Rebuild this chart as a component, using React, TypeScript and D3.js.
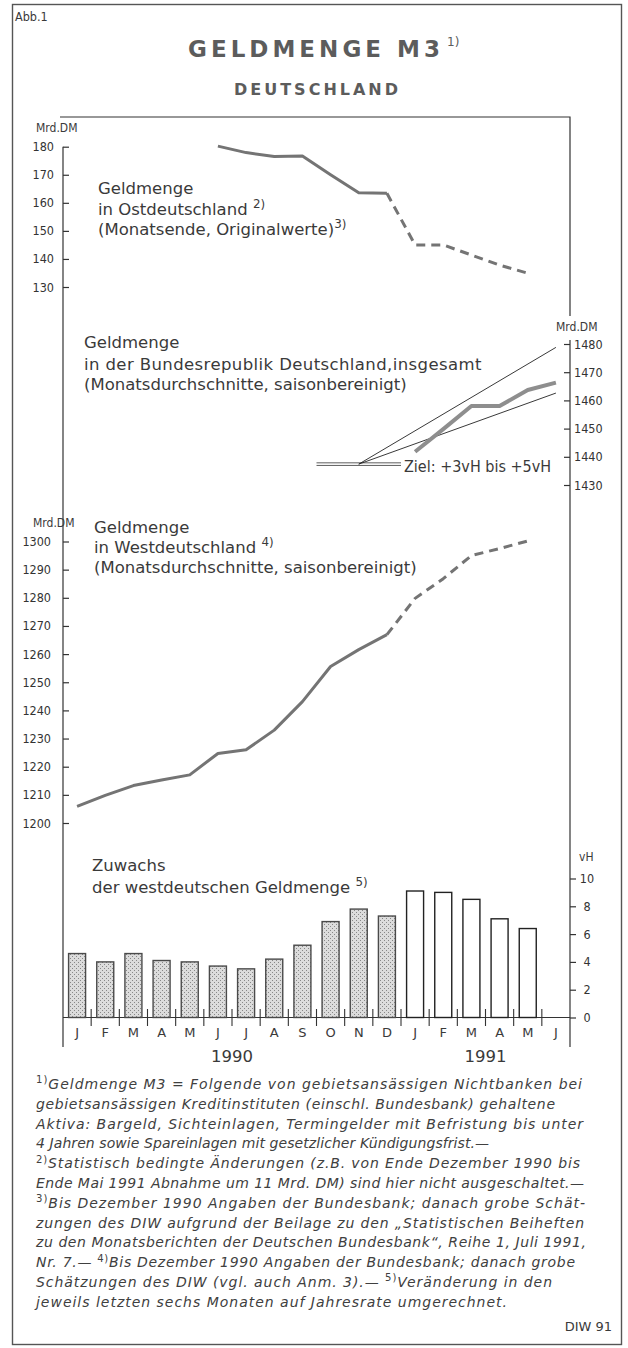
import React, { useRef, useEffect } from 'react';
import * as d3 from 'd3';

// months on the shared x axis (Jan 1990 - Jun 1991)
const monthIds = [
  '1990-01', '1990-02', '1990-03', '1990-04', '1990-05', '1990-06',
  '1990-07', '1990-08', '1990-09', '1990-10', '1990-11', '1990-12',
  '1991-01', '1991-02', '1991-03', '1991-04', '1991-05', '1991-06',
];
const monthLabels = ['J', 'F', 'M', 'A', 'M', 'J', 'J', 'A', 'S', 'O', 'N', 'D', 'J', 'F', 'M', 'A', 'M', 'J'];
const years = ['1990', '1991'];
const lastOfficial = '1990-12';

// Ostdeutschland, Mrd. DM (Monatsende)
const eastMonths = ['1990-06', '1990-07', '1990-08', '1990-09', '1990-10', '1990-11', '1990-12', '1991-01', '1991-02', '1991-03', '1991-04', '1991-05'];
const eastValues = [180.2, 177.9, 176.5, 176.7, 170.0, 163.6, 163.4, 145.0, 145.0, 141.4, 137.8, 134.9];
const eastTicks = [130, 140, 150, 160, 170, 180];

// Bundesrepublik insgesamt, Mrd. DM
const totalMonths = ['1991-01', '1991-02', '1991-03', '1991-04', '1991-05', '1991-06'];
const totalValues = [1441.8, 1449.8, 1458.0, 1458.0, 1463.7, 1466.3];
const totalTicks = [1430, 1440, 1450, 1460, 1470, 1480];
// Zielkorridor: Basis 4. Quartal 1990
const targetBaseMonths = ['1990-10', '1990-11', '1990-12'];
const targetBase = 1437.4;
const targetEndMonth = '1991-06';
const targetEndValues = [1462.6, 1478.8];

// Westdeutschland, Mrd. DM
const westMonths = ['1990-01', '1990-02', '1990-03', '1990-04', '1990-05', '1990-06', '1990-07', '1990-08', '1990-09', '1990-10', '1990-11', '1990-12', '1991-01', '1991-02', '1991-03', '1991-04', '1991-05'];
const westValues = [1205.9, 1209.8, 1213.3, 1215.3, 1217.1, 1224.7, 1226.0, 1233.0, 1243.1, 1255.6, 1261.6, 1266.9, 1279.8, 1286.8, 1295.0, 1297.5, 1300.2];
const westTicks = [1200, 1210, 1220, 1230, 1240, 1250, 1260, 1270, 1280, 1290, 1300];

// Zuwachs der westdeutschen Geldmenge, vH
const growthValues = [4.6, 4.0, 4.6, 4.1, 4.0, 3.7, 3.5, 4.2, 5.2, 6.9, 7.8, 7.3, 9.1, 9.0, 8.5, 7.1, 6.4];
const growthTicks = [0, 2, 4, 6, 8, 10];

type Part = [string, boolean];
const footnotes: Part[][] = [
  [['1)', true], ['Geldmenge M3 = Folgende von gebietsansässigen Nichtbanken bei', false]],
  [['gebietsansässigen Kreditinstituten (einschl. Bundesbank) gehaltene', false]],
  [['Aktiva: Bargeld, Sichteinlagen, Termingelder mit Befristung bis unter', false]],
  [['4 Jahren sowie Spareinlagen mit gesetzlicher Kündigungsfrist.—', false]],
  [['2)', true], ['Statistisch bedingte Änderungen (z.B. von Ende Dezember 1990 bis', false]],
  [['Ende Mai 1991 Abnahme um 11 Mrd. DM) sind hier nicht ausgeschaltet.—', false]],
  [['3)', true], ['Bis Dezember 1990 Angaben der Bundesbank; danach grobe Schät-', false]],
  [['zungen des DIW aufgrund der Beilage zu den „Statistischen Beiheften', false]],
  [['zu den Monatsberichten der Deutschen Bundesbank“, Reihe 1, Juli 1991,', false]],
  [['Nr. 7.— ', false], ['4)', true], ['Bis Dezember 1990 Angaben der Bundesbank; danach grobe', false]],
  [['Schätzungen des DIW (vgl. auch Anm. 3).— ', false], ['5)', true], ['Veränderung in den', false]],
  [['jeweils letzten sechs Monaten auf Jahresrate umgerechnet.', false]],
];
const footnoteWidths = [546, 519, 547, 453, 544, 548, 549, 548, 550, 539, 516, 471];

const FONT = "'DejaVu Sans', 'Noto Sans', sans-serif";
const COND = "'DejaVu Sans Condensed', 'Liberation Sans Narrow', 'DejaVu Sans', sans-serif";
const INK = '#3a3a3a';

const App: React.FC = () => {
  const svgRef = useRef<SVGSVGElement>(null);

  useEffect(() => {
    if (!svgRef.current) return;
    document.body.style.margin = '0';
    const svg = d3.select(svgRef.current);
    svg.selectAll('*').remove();

    svg.append('rect').attr('width', 628).attr('height', 1348).attr('fill', '#fff');

    const x = d3.scaleBand<string>().domain(monthIds).range([63, 570]);
    const bw = x.bandwidth();
    const xc = (m: string) => (x(m) as number) + bw / 2;

    const yEast = d3.scaleLinear().domain([130, 180]).range([287, 146.7]);
    const yTotal = d3.scaleLinear().domain([1430, 1480]).range([485, 344]);
    const yWest = d3.scaleLinear().domain([1200, 1300]).range([823, 541.5]);
    const yBar = d3.scaleLinear().domain([0, 10]).range([1017.5, 878.5]);

    // narrow numerals, squeezed horizontally like the printed DIN condensed
    const narrow = (sel: any) => sel
      .attr('font-family', COND)
      .attr('font-stretch', 'condensed')
      .style('font-stretch', 'condensed');

    // text helper with superscripts
    const addText = (x0: number, y0: number, parts: Part[], size: number, opts: any = {}) => {
      const t = svg.append('text')
        .attr('x', x0).attr('y', y0)
        .attr('font-family', opts.family || FONT)
        .attr('font-size', size)
        .attr('fill', opts.fill || INK);
      if (opts.italic) t.attr('font-style', 'italic');
      if (opts.width) t.attr('textLength', opts.width).attr('lengthAdjust', 'spacing');
      if (opts.spacing) t.attr('letter-spacing', opts.spacing);
      let up = false;
      parts.forEach(([s, sup]) => {
        const ts = t.append('tspan').text(s);
        if (sup) {
          ts.attr('font-size', size * 0.72).attr('font-style', 'normal');
          if (!up) { ts.attr('dy', -size * 0.4); up = true; }
        } else if (up) {
          ts.attr('dy', size * 0.4);
          up = false;
        }
      });
      return t;
    };

    // frame
    svg.append('rect')
      .attr('x', 12.5).attr('y', 4.5).attr('width', 609).attr('height', 1340)
      .attr('fill', 'none').attr('stroke', '#555').attr('stroke-width', 1.4);

    svg.append('text').attr('x', 15).attr('y', 21)
      .call(narrow).attr('font-size', 12.5).attr('fill', INK).text('Abb.1');

    // titles
    svg.append('text').attr('x', 188).attr('y', 57)
      .attr('font-family', FONT).attr('font-weight', 'bold').attr('font-size', 23)
      .attr('fill', '#5c5c5c').attr('textLength', 252).attr('lengthAdjust', 'spacing')
      .text('GELDMENGE M3');
    svg.append('text').attr('x', 447).attr('y', 46)
      .attr('font-family', FONT).attr('font-size', 12).attr('fill', '#5c5c5c').text('1)');
    svg.append('text').attr('x', 234).attr('y', 94.5)
      .attr('font-family', FONT).attr('font-weight', 'bold').attr('font-size', 16)
      .attr('fill', '#5c5c5c').attr('textLength', 164).attr('lengthAdjust', 'spacing')
      .text('DEUTSCHLAND');

    // inner frame and axis lines
    const frame = svg.append('g').attr('stroke', '#333').attr('fill', 'none').attr('stroke-width', 1.2);
    frame.append('path').attr('d', 'M60,117H570V316');
    frame.append('path').attr('d', 'M570,340V1047');
    frame.append('path').attr('d', `M63,${yEast(180)}V1047`);
    frame.append('path').attr('d', `M63,${yBar(0)}H570`);

    const styleAxis = (g: any) => {
      g.select('.domain').remove();
      g.call(narrow).attr('font-size', 12.5);
      g.selectAll('.tick line').attr('stroke', '#333').attr('stroke-width', 1.2);
      g.selectAll('.tick text').attr('fill', '#333');
    };
    const fmt = d3.format('d');

    // axes
    svg.append('g').attr('transform', 'translate(63,0)')
      .call(d3.axisLeft(yEast).tickValues(eastTicks).tickFormat(fmt as any).tickSizeInner(-6).tickSizeOuter(0).tickPadding(9) as any)
      .call(styleAxis);
    svg.append('g').attr('transform', 'translate(570,0)')
      .call(d3.axisRight(yTotal).tickValues(totalTicks).tickFormat(fmt as any).tickSizeInner(-6).tickSizeOuter(0).tickPadding(4) as any)
      .call(styleAxis);
    svg.append('g').attr('transform', 'translate(63,0)')
      .call(d3.axisLeft(yWest).tickValues(westTicks).tickFormat(fmt as any).tickSizeInner(-6).tickSizeOuter(0).tickPadding(12) as any)
      .call(styleAxis);
    const barAxis = svg.append('g').attr('transform', 'translate(570,0)')
      .call(d3.axisRight(yBar).tickValues(growthTicks).tickFormat(fmt as any).tickSizeInner(6).tickSizeOuter(0).tickPadding(4) as any)
      .call(styleAxis);
    barAxis.selectAll('.tick text').attr('text-anchor', 'middle').attr('x', 17);

    // unit labels
    const unit = (x0: number, y0: number, s: string) =>
      svg.append('text').attr('x', x0).attr('y', y0)
        .call(narrow).attr('font-size', 12).attr('fill', INK).text(s);
    unit(36, 132, 'Mrd.DM');
    unit(556, 331, 'Mrd.DM');
    unit(33, 527, 'Mrd.DM');
    unit(579, 861, 'vH');

    // lines
    const drawSeries = (months: string[], values: number[], y: d3.ScaleLinear<number, number>) => {
      const pts: [string, number][] = months.map((m, i) => [m, values[i]]);
      const line = d3.line<[string, number]>().x(d => xc(d[0])).y(d => y(d[1]));
      const cut = months.indexOf(lastOfficial);
      svg.append('path').attr('d', line(pts.slice(0, cut + 1)))
        .attr('fill', 'none').attr('stroke', '#747474').attr('stroke-width', 3)
        .attr('stroke-linejoin', 'round');
      svg.append('path').attr('d', line(pts.slice(cut)))
        .attr('fill', 'none').attr('stroke', '#747474').attr('stroke-width', 3)
        .attr('stroke-dasharray', '9,6').attr('stroke-linejoin', 'round');
    };
    drawSeries(eastMonths, eastValues, yEast);
    drawSeries(westMonths, westValues, yWest);

    // target corridor
    const baseX0 = x(targetBaseMonths[0]) as number;
    const baseX1 = (x(targetBaseMonths[targetBaseMonths.length - 1]) as number) + bw;
    const yb = yTotal(targetBase);
    [-1.3, 1.3].forEach(off => {
      svg.append('line').attr('x1', baseX0).attr('x2', baseX1).attr('y1', yb + off).attr('y2', yb + off)
        .attr('stroke', '#333').attr('stroke-width', 0.8);
    });
    const mid = targetBaseMonths[1];
    targetEndValues.forEach(v => {
      svg.append('line')
        .attr('x1', xc(mid)).attr('y1', yb)
        .attr('x2', xc(targetEndMonth)).attr('y2', yTotal(v))
        .attr('stroke', '#222').attr('stroke-width', 0.9);
    });
    svg.append('text').attr('x', 404).attr('y', 472)
      .call(narrow).attr('font-size', 16).attr('fill', INK)
      .text('Ziel: +3vH bis +5vH');

    const totalLine = d3.line<number>().x((_, i) => xc(totalMonths[i])).y(d => yTotal(d));
    svg.append('path').attr('d', totalLine(totalValues))
      .attr('fill', 'none').attr('stroke', '#8e8e8e').attr('stroke-width', 4)
      .attr('stroke-linejoin', 'round');

    // bars
    const defs = svg.append('defs');
    const pat = defs.append('pattern').attr('id', 'stipple')
      .attr('width', 4).attr('height', 4).attr('patternUnits', 'userSpaceOnUse');
    pat.append('rect').attr('width', 4).attr('height', 4).attr('fill', '#dcdcdc');
    pat.append('rect').attr('x', 0).attr('y', 0).attr('width', 1).attr('height', 1).attr('fill', '#888');
    pat.append('rect').attr('x', 2).attr('y', 2).attr('width', 1).attr('height', 1).attr('fill', '#888');

    const barW = 17;
    svg.append('g').selectAll('rect')
      .data(growthValues)
      .enter()
      .append('rect')
      .attr('x', (_, i) => xc(westMonths[i]) - barW / 2)
      .attr('y', d => yBar(d))
      .attr('width', barW)
      .attr('height', d => yBar(0) - yBar(d))
      .attr('fill', (_, i) => (westMonths[i] > lastOfficial ? '#fff' : 'url(#stipple)'))
      .attr('stroke', (_, i) => (westMonths[i] > lastOfficial ? '#222' : '#4a4a4a'))
      .attr('stroke-width', 1.4);

    // month separators and labels
    monthIds.slice(1).forEach(m => {
      const xx = x(m) as number;
      svg.append('line').attr('x1', xx).attr('x2', xx).attr('y1', 1009).attr('y2', 1026)
        .attr('stroke', '#333').attr('stroke-width', 1.1);
    });
    svg.append('g').selectAll('text')
      .data(monthIds)
      .enter()
      .append('text')
      .attr('x', d => xc(d))
      .attr('y', 1037)
      .attr('text-anchor', 'middle')
      .attr('font-family', FONT).attr('font-size', 13).attr('fill', INK)
      .text((_, i) => monthLabels[i]);
    years.forEach(yr => {
      const ms = monthIds.filter(m => m.startsWith(yr));
      const cx = ((x(ms[0]) as number) + (x(ms[ms.length - 1]) as number) + bw) / 2;
      svg.append('text').attr('x', cx).attr('y', 1062).attr('text-anchor', 'middle')
        .attr('font-family', FONT).attr('font-size', 16.5).attr('fill', INK).text(yr);
    });

    // chart captions
    const cap = 16.5;
    addText(98, 194, [['Geldmenge', false]], cap);
    addText(98, 215, [['in Ostdeutschland ', false], ['2)', true]], cap);
    addText(98, 235, [['(Monatsende, Originalwerte)', false], ['3)', true]], cap);

    addText(84, 348, [['Geldmenge', false]], cap);
    addText(84, 370, [['in der Bundesrepublik Deutschland,insgesamt', false]], cap, { spacing: 0.4 });
    addText(84, 390, [['(Monatsdurchschnitte, saisonbereinigt)', false]], cap);

    addText(94, 533, [['Geldmenge', false]], cap);
    addText(94, 553, [['in Westdeutschland ', false], ['4)', true]], cap);
    addText(94, 573, [['(Monatsdurchschnitte, saisonbereinigt)', false]], cap);

    addText(92, 871, [['Zuwachs', false]], cap);
    addText(92, 893, [['der westdeutschen Geldmenge ', false], ['5)', true]], cap);

    // footnotes
    footnotes.forEach((parts, i) => {
      addText(36, 1089 + i * 19.8, parts, 14, { italic: true, width: footnoteWidths[i], fill: '#404040' });
    });
    svg.append('text').attr('x', 612).attr('y', 1331).attr('text-anchor', 'end')
      .attr('font-family', FONT).attr('font-size', 13).attr('fill', INK).text('DIW 91');
  }, []);

  return (
    <svg
      ref={svgRef}
      width={628}
      height={1348}
      style={{ position: 'absolute', left: 0, top: 0, display: 'block' }}
    />
  );
};

export default App;
